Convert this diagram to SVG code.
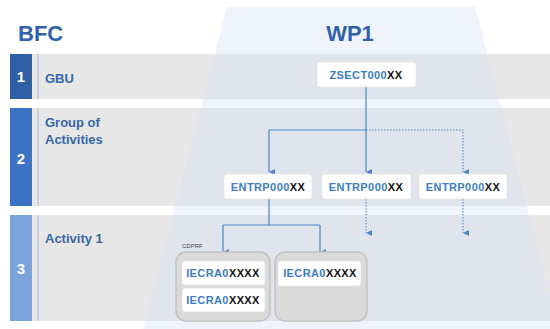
<svg xmlns="http://www.w3.org/2000/svg" width="550" height="329" viewBox="0 0 550 329">
<defs>
<style>
.band{fill:#e7e7e7}
.num{fill:#fff;font-family:"Liberation Sans",Arial,sans-serif;font-weight:bold;font-size:15px;text-anchor:middle}
.lbl{fill:#3566a8;font-family:"Liberation Sans",Arial,sans-serif;font-weight:bold;font-size:13px}
.title{fill:#2f62aa;font-family:"Liberation Sans",Arial,sans-serif;font-weight:bold;font-size:22px}
.node{fill:#fff;stroke:#e2e2e2;stroke-width:0.6}
.nt{font-family:"Liberation Sans",Arial,sans-serif;font-weight:bold;font-size:11px;text-anchor:middle;letter-spacing:0.4px}
.b{fill:#3a7cc6}
.k{fill:#111}
.grp{fill:#dadada;stroke:#c2c2c2;stroke-width:1.5}
.sep{stroke:#aec4e2;stroke-width:1.2}
.c{fill:none;stroke:#4a86c8;stroke-width:1.2}
.d{fill:none;stroke:#4a86c8;stroke-width:1;stroke-dasharray:1.5,1.5}
</style>
<marker id="ah" viewBox="0 0 6 6" refX="3" refY="6" markerWidth="6" markerHeight="6" markerUnits="userSpaceOnUse" orient="auto-start-reverse">
<path d="M0,0 L6,0 L3,6 Z" fill="#4a86c8"/>
</marker>
</defs>
<rect width="550" height="329" fill="#fff"/>
<g id="bands">
<rect class="band" x="10" y="54" width="540" height="45"/>
<rect class="band" x="10" y="108" width="540" height="98"/>
<rect class="band" x="10" y="215" width="540" height="106"/>
</g>
<polygon id="wp1-area" points="227,7 475,7 559,329 143,329" fill="#d6e2f4" opacity="0.4"/>
<g id="row1">
<rect x="10" y="54" width="22" height="45" fill="#2f5fa5"/>
<line class="sep" x1="38" y1="54" x2="38" y2="99"/>
<text class="num" x="21" y="82">1</text>
<text class="lbl" x="45" y="83">GBU</text>
</g>
<g id="row2">
<rect x="10" y="108" width="22" height="98" fill="#3b72c4"/>
<line class="sep" x1="38" y1="108" x2="38" y2="206"/>
<text class="num" x="21" y="164">2</text>
<text class="lbl" x="45" y="127">Group of</text>
<text class="lbl" x="45" y="144">Activities</text>
</g>
<g id="row3">
<rect x="10" y="215" width="22" height="106" fill="#7aa3dc"/>
<line class="sep" x1="38" y1="215" x2="38" y2="321"/>
<text class="num" x="21" y="274">3</text>
<text class="lbl" x="45" y="243">Activity 1</text>
</g>
<text class="title" x="18" y="41">BFC</text>
<text class="title" x="350" y="41" text-anchor="middle">WP1</text>
<g id="connectors">
<path class="c" d="M366,87 V130 M269,130 H366"/>
<path class="c" d="M269,130 V172" marker-end="url(#ah)"/>
<path class="c" d="M366,130 V172" marker-end="url(#ah)"/>
<path class="d" d="M366,130 H463 V172" marker-end="url(#ah)"/>
<path class="d" d="M366,199 V233" marker-end="url(#ah)"/>
<path class="d" d="M463,199 V233" marker-end="url(#ah)"/>
<path class="c" d="M269,199 V225 M223,225 H320"/>
<path class="c" d="M223,225 V252" marker-end="url(#ah)"/>
<path class="c" d="M320,225 V252" marker-end="url(#ah)"/>
</g>
<g id="zsect">
<rect class="node" x="317" y="62" width="99" height="25" rx="3"/>
<text class="nt" x="366" y="79"><tspan class="b">ZSECT000</tspan><tspan class="k">XX</tspan></text>
</g>
<g id="entrp1">
<rect class="node" x="224" y="174" width="88" height="25" rx="3"/>
<text class="nt" x="268" y="191"><tspan class="b">ENTRP000</tspan><tspan class="k">XX</tspan></text>
</g>
<g id="entrp2">
<rect class="node" x="322" y="174" width="89" height="25" rx="3"/>
<text class="nt" x="366" y="191"><tspan class="b">ENTRP000</tspan><tspan class="k">XX</tspan></text>
</g>
<g id="entrp3">
<rect class="node" x="419" y="174" width="88" height="25" rx="3"/>
<text class="nt" x="463" y="191"><tspan class="b">ENTRP000</tspan><tspan class="k">XX</tspan></text>
</g>
<g id="cdprf">
<text x="182" y="248" font-family="'Liberation Sans',Arial,sans-serif" font-size="6" fill="#444">CDPRF</text>
<rect class="grp" x="176" y="252" width="94" height="69" rx="10"/>
<rect class="node" x="182" y="261" width="83" height="24" rx="3"/>
<text class="nt" x="223" y="277"><tspan class="b">IECRA0</tspan><tspan class="k">XXXX</tspan></text>
<rect class="node" x="182" y="288" width="83" height="24" rx="3"/>
<text class="nt" x="223" y="304"><tspan class="b">IECRA0</tspan><tspan class="k">XXXX</tspan></text>
</g>
<g id="group2">
<rect class="grp" x="275" y="252" width="92" height="69" rx="10"/>
<rect class="node" x="278" y="261" width="83" height="25" rx="3"/>
<text class="nt" x="320" y="277"><tspan class="b">IECRA0</tspan><tspan class="k">XXXX</tspan></text>
</g>
</svg>
